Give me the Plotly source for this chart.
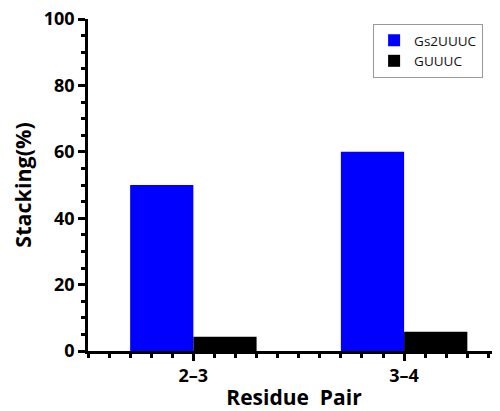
import plotly.graph_objects as go

categories = ["2–3", "3–4"]
positions = [1, 2]
gs2uuuc = [50, 60]
guuuc = [4.3, 5.8]

FONT = "Open Sans"

fig = go.Figure()
fig.add_trace(go.Bar(name="Gs2UUUC", x=positions, y=gs2uuuc, marker=dict(color="#0000ff", line=dict(width=0))))
fig.add_trace(go.Bar(name="GUUUC", x=positions, y=guuuc, marker=dict(color="#000000", line=dict(width=0))))

# page body has an 8px margin, so the figure is sized to fill the 500x411 window from (8, 8)
fig.update_layout(
    width=492, height=403,
    margin=dict(l=80, r=0, t=11, b=60),
    plot_bgcolor="white", paper_bgcolor="white",
    barmode="group", bargap=0.4, bargroupgap=0,
    font=dict(family=FONT, color="black"),
    legend=dict(
        x=0.692, y=0.985, xanchor="left", yanchor="top",
        bordercolor="#999999", borderwidth=1,
        font=dict(family=FONT, size=13.5, color="#111111"),
        tracegroupgap=0, itemwidth=30,
    ),
    showlegend=True,
)
fig.update_xaxes(
    range=[0.5, 2.455], automargin=False,
    tickvals=positions, ticktext=categories,
    showline=True, linecolor="black", linewidth=2.5,
    ticks="outside", ticklen=7, tickwidth=2.5, tickcolor="black",
    minor=dict(ticks="outside", ticklen=4, tickwidth=2.5, tickcolor="black", tick0=0.5, dtick=0.1),
    tickfont=dict(family=FONT, size=18, color="black", weight="bold"),
    ticklabeloverflow="allow",
    title=dict(text="<b>Residue  Pair</b>", font=dict(family=FONT, size=21, color="black"), standoff=21),
    showgrid=False, zeroline=False,
)
fig.update_yaxes(
    range=[0, 100], dtick=20, automargin=False,
    showline=True, linecolor="black", linewidth=2.5,
    ticks="outside", ticklen=7, tickwidth=2.5, tickcolor="black",
    minor=dict(ticks="outside", ticklen=4, tickwidth=2.5, tickcolor="black", dtick=5),
    tickfont=dict(family=FONT, size=18, color="black", weight="bold"),
    ticklabeloverflow="allow",
    title=dict(text="<b>Stacking(%)</b>", font=dict(family=FONT, size=21.5, color="black"), standoff=11),
    showgrid=False, zeroline=False,
)

fig.write_html("out.html")
